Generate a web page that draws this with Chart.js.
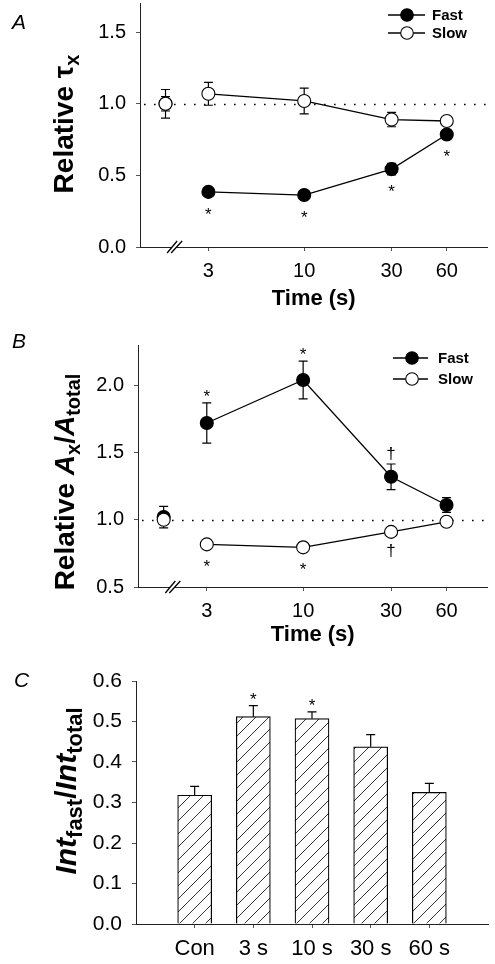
<!DOCTYPE html>
<html>
<head>
<meta charset="utf-8">
<script src="https://cdn.jsdelivr.net/npm/chart.js@4.4.1/dist/chart.umd.min.js"></script>
<style>
  html, body { margin: 0; padding: 0; background: #fff; }
  body { width: 495px; height: 964px; position: relative; overflow: hidden; }
  canvas { position: absolute; left: 0; }
</style>
</head>
<body>
<canvas id="chartA" width="495" height="316" style="top:-4px"></canvas>
<canvas id="chartB" width="495" height="336" style="top:312px"></canvas>
<canvas id="chartC" width="495" height="316" style="top:648px"></canvas>
<script>
// ---- data ----
const times = [3, 10, 30, 60];
const timeTicks = [3, 10, 30, 60];
const controlTime = [1.75];        // control sits left of the axis break
const breakTime = 1.95;

// A: relative tau
const tauTicks = [0, 0.5, 1.0, 1.5];
const fastTau = [0.385, 0.363, 0.544, 0.786];
const fastTauErr = [0.02, 0.02, 0.04, 0.03];
const slowTau = [1.07, 1.02, 0.89, 0.88];
const slowTauErr = [0.08, 0.09, 0.05, 0.02];
const ctrlFastTau = [1.0];
const ctrlFastTauErr = [0.05];
const ctrlSlowTau = [1.0];
const ctrlSlowTauErr = [0.1];
const marksA = [['fast', 0, '*', 'below'], ['fast', 1, '*', 'below'], ['fast', 2, '*', 'below'], ['fast', 3, '*', 'below']];

// B: relative amplitude
const ampTicks = [0.5, 1.0, 1.5, 2.0];
const fastAmp = [1.72, 2.04, 1.32, 1.11];
const fastAmpErr = [0.15, 0.14, 0.095, 0.055];
const slowAmp = [0.817, 0.795, 0.91, 0.985];
const slowAmpErr = [0.012, 0.012, 0.015, 0.012];
const ctrlFastAmp = [1.02];
const ctrlFastAmpErr = [0.08];
const ctrlSlowAmp = [1.0];
const ctrlSlowAmpErr = [0.02];
const marksB = [['fast', 0, '*', 'above'], ['fast', 1, '*', 'above'], ['fast', 2, '\u2020', 'above'],
                ['slow', 0, '*', 'below'], ['slow', 1, '*', 'below'], ['slow', 2, '\u2020', 'below']];

// C: Int_fast / Int_total
const barLabels = ['Con', '3 s', '10 s', '30 s', '60 s'];
const barPos = [1, 2, 3, 4, 5];
const ratioTicks = [0, 0.1, 0.2, 0.3, 0.4, 0.5, 0.6];
const ratio = [0.318, 0.512, 0.507, 0.4375, 0.325];
const ratioErr = [0.022, 0.027, 0.017, 0.030, 0.022];
const marksC = [['bars', 1, '*', 'above'], ['bars', 2, '*', 'above']];

// ---- styling ----
const FONT = '"Liberation Sans", Arial, Helvetica, sans-serif';
Chart.defaults.font.family = FONT;
Chart.defaults.color = '#000';
Chart.defaults.animation = false;

function pts(xs, ys) {
  return xs.map((x, i) => ({x: x, y: ys[i]}));
}

function lineSet(key, xs, ys, errs, fill, showLine, order) {
  return {
    key: key, data: pts(xs, ys), errors: errs, showLine: showLine, order: order,
    borderColor: '#000', borderWidth: 1.3, backgroundColor: fill,
    pointRadius: 6.5, pointHoverRadius: 6.5, pointBackgroundColor: fill,
    pointBorderColor: '#000', pointBorderWidth: 1.1, tension: 0
  };
}

// fixed-size axis: no automatic label padding, so the chart area lands where the figure has it
function tickAxis(list, fmt, size, pad, fit) {
  return {
    afterBuildTicks: s => { s.ticks = list.map(v => ({value: v})); },
    afterFit: s => {
      fit(s);
      s.paddingTop = 0; s.paddingBottom = 0; s.paddingLeft = 0; s.paddingRight = 0;
    },
    ticks: { callback: fmt, font: {size: size}, color: '#000', padding: pad, autoSkip: false, maxRotation: 0 },
    grid: { display: true, drawOnChartArea: false, drawTicks: true, tickLength: 4, color: '#555', offset: false },
    border: { display: true, color: '#222', width: 1 }
  };
}

function hatchPattern() {
  const n = 13;
  const c = document.createElement('canvas');
  c.width = n; c.height = n;
  const g = c.getContext('2d');
  g.fillStyle = '#fff';
  g.fillRect(0, 0, n, n);
  g.strokeStyle = '#333';
  g.lineWidth = 1;
  g.beginPath();
  g.moveTo(-1, n + 1); g.lineTo(n + 1, -1);
  g.stroke();
  return g.createPattern(c, 'repeat');
}

// draws error bars, reference line, axis break, significance marks, legend, rich y title
const decor = {
  id: 'decor',
  beforeDatasetsDraw(chart, args, o) {
    const ctx = chart.ctx, ca = chart.chartArea, ys = chart.scales.y;
    ctx.save();
    if (o.refLine != null) {
      const y = Math.round(ys.getPixelForValue(o.refLine)) + 0.5;
      ctx.strokeStyle = '#000';
      ctx.lineWidth = 1.6;
      ctx.setLineDash([1.6, 8.4]);
      ctx.beginPath(); ctx.moveTo(ca.left + 4, y); ctx.lineTo(ca.right, y); ctx.stroke();
      ctx.setLineDash([]);
    }
    chart.data.datasets.forEach((ds, i) => {
      if (!ds.errors) return;
      const meta = chart.getDatasetMeta(i);
      meta.data.forEach((el, j) => {
        const v = ds.data[j].y, e = ds.errors[j];
        if (!e) return;
        const top = ys.getPixelForValue(v + e);
        const bot = ds.errUpOnly ? ys.getPixelForValue(v) : ys.getPixelForValue(v - e);
        const cap = 4.5;
        ctx.strokeStyle = '#000';
        ctx.lineWidth = 1.2;
        ctx.beginPath();
        ctx.moveTo(el.x, top); ctx.lineTo(el.x, bot);
        ctx.moveTo(el.x - cap, top); ctx.lineTo(el.x + cap, top);
        if (!ds.errUpOnly) { ctx.moveTo(el.x - cap, bot); ctx.lineTo(el.x + cap, bot); }
        ctx.stroke();
      });
    });
    ctx.restore();
  },
  afterDraw(chart, args, o) {
    const ctx = chart.ctx, ca = chart.chartArea, ys = chart.scales.y;
    ctx.save();

    if (o.breakAt != null) {
      const bx = chart.scales.x.getPixelForValue(o.breakAt), by = ca.bottom;
      ctx.fillStyle = '#fff';
      ctx.beginPath();
      ctx.moveTo(bx - 7, by + 6); ctx.lineTo(bx - 3, by + 6);
      ctx.lineTo(bx + 8, by - 6); ctx.lineTo(bx + 3, by - 6);
      ctx.closePath(); ctx.fill();
      ctx.strokeStyle = '#000'; ctx.lineWidth = 1.3;
      ctx.beginPath();
      ctx.moveTo(bx - 7, by + 6); ctx.lineTo(bx + 3, by - 6);
      ctx.moveTo(bx - 3, by + 6); ctx.lineTo(bx + 8, by - 6);
      ctx.stroke();
    }

    (o.marks || []).forEach(m => {
      const di = chart.data.datasets.findIndex(d => d.key === m[0]);
      const ds = chart.data.datasets[di];
      const el = chart.getDatasetMeta(di).data[m[1]];
      const v = ds.data[m[1]].y, e = ds.errors[m[1]] || 0;
      let y;
      if (m[3] === 'above') y = ys.getPixelForValue(v + e) - 10;
      else y = Math.max(el.y + 19, ys.getPixelForValue(v - e) + 12);
      ctx.font = '17px ' + FONT;
      ctx.fillStyle = '#000';
      ctx.textAlign = 'center';
      ctx.textBaseline = 'alphabetic';
      const tm = ctx.measureText(m[2]);
      ctx.fillText(m[2], el.x, y + (tm.actualBoundingBoxAscent - tm.actualBoundingBoxDescent) / 2);
    });

    if (o.legend) {
      const L = o.legend;
      L.items.forEach((it, k) => {
        const y = L.ys[k];
        ctx.strokeStyle = '#000'; ctx.lineWidth = 1.3;
        ctx.beginPath(); ctx.moveTo(L.x0, y); ctx.lineTo(L.x1, y); ctx.stroke();
        ctx.beginPath(); ctx.arc(L.mx, y, 6.3, 0, Math.PI * 2);
        ctx.fillStyle = it[1]; ctx.fill();
        ctx.lineWidth = 1.1; ctx.stroke();
        ctx.fillStyle = '#000';
        ctx.font = 'bold 15px ' + FONT;
        ctx.textAlign = 'left'; ctx.textBaseline = 'middle';
        ctx.fillText(it[0], L.tx, y + 1);
      });
    }

    if (o.yTitle) {
      const T = o.yTitle;
      ctx.translate(T.cx, T.cy);
      ctx.rotate(-Math.PI / 2);
      ctx.textAlign = 'left'; ctx.textBaseline = 'alphabetic';
      ctx.fillStyle = '#000';
      let total = 0;
      T.segs.forEach(s => { ctx.font = s[1]; total += ctx.measureText(s[0]).width; });
      let x = -total / 2;
      const base = T.size * 0.36;
      T.segs.forEach(s => {
        ctx.font = s[1];
        ctx.fillText(s[0], x, base + (s[2] ? T.size * 0.22 : 0));
        x += ctx.measureText(s[0]).width;
      });
      ctx.setTransform(1, 0, 0, 1, 0, 0);
    }

    if (o.letter) {
      ctx.font = 'italic 21px ' + FONT;
      ctx.fillStyle = '#000';
      ctx.textAlign = 'left'; ctx.textBaseline = 'middle';
      ctx.fillText(o.letter[0], o.letter[1], o.letter[2]);
    }
    ctx.restore();
  }
};

const legendItems = [['Fast', '#000'], ['Slow', '#fff']];
const fmt1 = v => Number(v).toFixed(1);

function timeChart(id, cfg) {
  const xAxis = Object.assign(tickAxis(timeTicks, v => String(v), 20, 8, s => { s.height = cfg.xHeight; }), {
    type: 'logarithmic', min: 1.27, max: 100,
    title: { display: true, text: 'Time (s)', font: {size: 22, weight: 'bold'}, color: '#000', padding: 0 }
  });
  const yAxis = Object.assign(tickAxis(cfg.yTicks, fmt1, 20, 10, s => { s.width = cfg.yWidth; }), {
    min: cfg.yMin, max: cfg.yMax
  });
  return new Chart(document.getElementById(id), {
    type: 'line',
    data: {
      datasets: [
        lineSet('ctrlSlow', controlTime, cfg.ctrlSlow, cfg.ctrlSlowErr, '#fff', false, 0),
        lineSet('ctrlFast', controlTime, cfg.ctrlFast, cfg.ctrlFastErr, '#000', false, 1),
        lineSet('slow', times, cfg.slow, cfg.slowErr, '#fff', true, 2),
        lineSet('fast', times, cfg.fast, cfg.fastErr, '#000', true, 3)
      ]
    },
    options: {
      responsive: false, devicePixelRatio: 1, events: [],
      layout: { padding: cfg.padding },
      scales: { x: xAxis, y: yAxis },
      plugins: {
        legend: { display: false }, tooltip: { enabled: false },
        decor: {
          refLine: 1.0, breakAt: breakTime, marks: cfg.marks,
          legend: Object.assign({items: legendItems}, cfg.legendPos),
          yTitle: cfg.yTitle, letter: cfg.letter
        }
      }
    },
    plugins: [decor]
  });
}

const B28 = 'bold 28px ' + FONT, BI28 = 'italic bold 28px ' + FONT, S20 = 'bold 20px ' + FONT;

// canvas A starts 4px above the page so its chart area can reach the top edge
timeChart('chartA', {
  yTicks: tauTicks, yMin: 0, yMax: 1.7, yWidth: 140, xHeight: 65,
  padding: {top: 0, right: 5, left: 0, bottom: 0},
  fast: fastTau, fastErr: fastTauErr, slow: slowTau, slowErr: slowTauErr,
  ctrlFast: ctrlFastTau, ctrlFastErr: ctrlFastTauErr, ctrlSlow: ctrlSlowTau, ctrlSlowErr: ctrlSlowTauErr,
  marks: marksA,
  legendPos: {x0: 388, x1: 425, mx: 407, tx: 432, ys: [19, 37]},
  yTitle: {cx: 63, cy: 128, size: 28, segs: [['Relative ', B28, false], ['\u03C4', B28, false], ['x', S20, true]]},
  letter: ['A', 12, 27]
});

timeChart('chartB', {
  yTicks: ampTicks, yMin: 0.5, yMax: 2.3, yWidth: 138, xHeight: 61,
  padding: {top: 33, right: 7, left: 0, bottom: 0},
  fast: fastAmp, fastErr: fastAmpErr, slow: slowAmp, slowErr: slowAmpErr,
  ctrlFast: ctrlFastAmp, ctrlFastErr: ctrlFastAmpErr, ctrlSlow: ctrlSlowAmp, ctrlSlowErr: ctrlSlowAmpErr,
  marks: marksB,
  legendPos: {x0: 393, x1: 428, mx: 412, tx: 438, ys: [46, 67]},
  yTitle: {cx: 64, cy: 170, size: 28, segs: [['Relative ', B28, false], ['A', BI28, false], ['x', S20, true],
                                             ['/', B28, false], ['A', BI28, false], ['total', S20, true]]},
  letter: ['B', 12, 30]
});

const B30 = 'bold 30px ' + FONT, BI30 = 'italic bold 30px ' + FONT, S22 = 'bold 22px ' + FONT;
const xC = Object.assign(tickAxis(barPos, v => barLabels[v - 1], 22, 8, s => { s.height = 40; }), {
  type: 'linear', min: 0, max: 6, offset: false
});
const yC = Object.assign(tickAxis(ratioTicks, fmt1, 21, 10, s => { s.width = 136; }), { min: 0, max: 0.6 });

new Chart(document.getElementById('chartC'), {
  type: 'bar',
  data: {
    datasets: [{
      key: 'bars', data: pts(barPos, ratio), errors: ratioErr, errUpOnly: true,
      backgroundColor: hatchPattern(), borderColor: '#000', borderWidth: 1.2,
      barThickness: 34, borderSkipped: 'bottom'
    }]
  },
  options: {
    responsive: false, devicePixelRatio: 1, events: [],
    layout: { padding: {top: 33, right: 7, left: 0, bottom: 0} },
    scales: { x: xC, y: yC },
    plugins: {
      legend: { display: false }, tooltip: { enabled: false },
      decor: {
        marks: marksC,
        yTitle: {cx: 65, cy: 143, size: 30, segs: [['Int', BI30, false], ['fast', S22, true],
                                                   ['/', B30, false], ['Int', BI30, false], ['total', S22, true]]},
        letter: ['C', 14, 33]
      }
    }
  },
  plugins: [decor]
});
</script>
</body>
</html>
